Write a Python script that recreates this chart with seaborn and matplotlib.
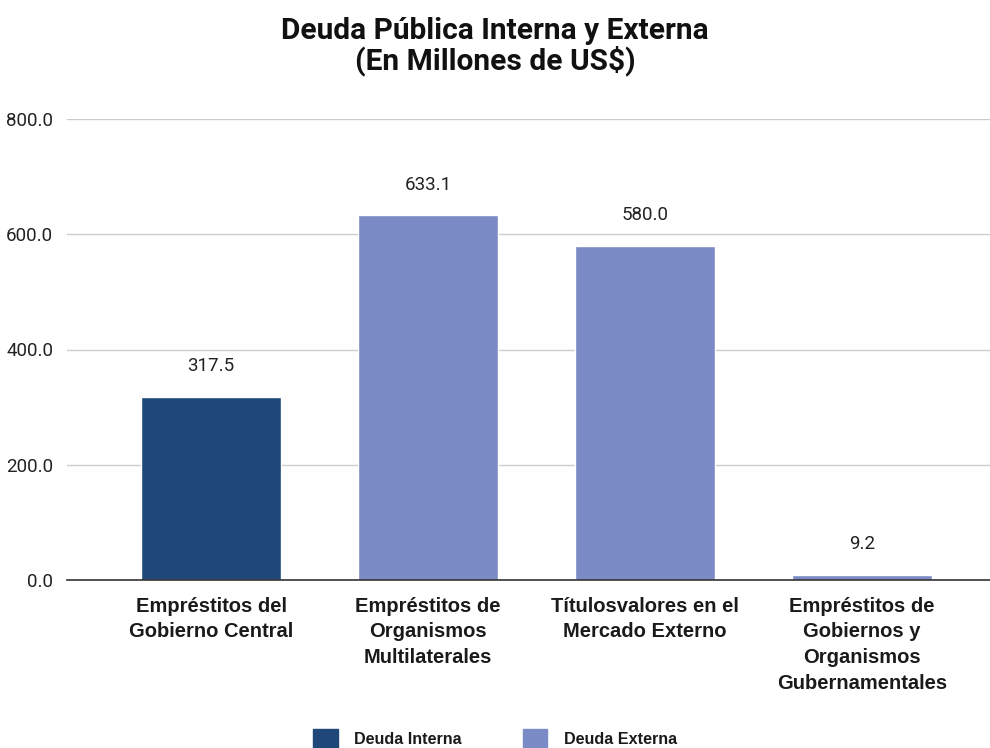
import matplotlib
matplotlib.use("Agg")
import matplotlib.pyplot as plt
import seaborn as sns
import pandas as pd
from matplotlib.patches import Patch

categories = [
    "Empréstitos del\nGobierno Central",
    "Empréstitos de\nOrganismos\nMultilaterales",
    "Títulosvalores en el\nMercado Externo",
    "Empréstitos de\nGobiernos y\nOrganismos\nGubernamentales",
]
values = [317.5, 633.1, 580.0, 9.2]
series = ["Deuda Interna", "Deuda Externa", "Deuda Externa", "Deuda Externa"]
COLORS = {"Deuda Interna": "#1F4778", "Deuda Externa": "#7B8BC5"}

sns.set_theme(style="white")
plt.rcParams["font.family"] = ["Roboto", "DejaVu Sans"]
LABEL_FONT = ["Liberation Sans", "DejaVu Sans"]

df = pd.DataFrame({"cat": categories, "val": values, "serie": series})

fig = plt.figure(figsize=(9.9, 7.48), dpi=100)
ax = fig.add_axes([67 / 990, 1 - 580 / 748, 1 - 67 / 990, (580 - 119) / 748])

sns.barplot(data=df, x="cat", y="val", hue="serie", palette=COLORS,
            dodge=False, width=0.645, ax=ax, legend=False, saturation=1)

ax.set_ylim(0, 800)
ax.set_xlim(-0.664, 3.59)
ax.set_yticks([0, 200, 400, 600, 800])
ax.set_yticklabels([f"{v:.1f}" for v in [0, 200, 400, 600, 800]], fontsize=13.5, color="#222222")
ax.yaxis.grid(True, color="#CCCCCC", linewidth=1)
ax.set_axisbelow(True)
for s in ["top", "right", "left"]:
    ax.spines[s].set_visible(False)
ax.spines["bottom"].set_color("#333333")
ax.spines["bottom"].set_linewidth(1.2)
ax.tick_params(axis="y", length=0, pad=10)
ax.tick_params(axis="x", length=0, pad=12)
ax.set_xticks(range(len(categories)))
ax.set_xticklabels(categories, fontsize=14.5, fontweight="bold", color="#1a1a1a",
                   linespacing=1.45, family=LABEL_FONT)
ax.set_xlabel("")
ax.set_ylabel("")

for i, v in enumerate(values):
    ax.annotate(f"{v:.1f}", (i, v), xytext=(0, 22), textcoords="offset points",
                ha="center", va="center", fontsize=13.5, color="#222222")

fig.suptitle("Deuda Pública Interna y Externa\n(En Millones de US$)", x=0.5, y=0.977,
             fontsize=21.5, fontweight="bold", color="#111111", linespacing=1.0)

handles = [Patch(facecolor=COLORS[k], edgecolor=COLORS[k]) for k in ["Deuda Interna", "Deuda Externa"]]
leg = fig.legend(handles, ["Deuda Interna", "Deuda Externa"], loc="center",
                 bbox_to_anchor=(0.5, 1 - 739 / 748), ncol=2, frameon=False,
                 prop={"size": 11.6, "weight": "bold", "family": LABEL_FONT},
                 handlelength=1.5, handleheight=1.5, columnspacing=3.85, handletextpad=1.0)
for t in leg.get_texts():
    t.set_color("#1a1a1a")

fig.savefig("out.png", dpi=100)
